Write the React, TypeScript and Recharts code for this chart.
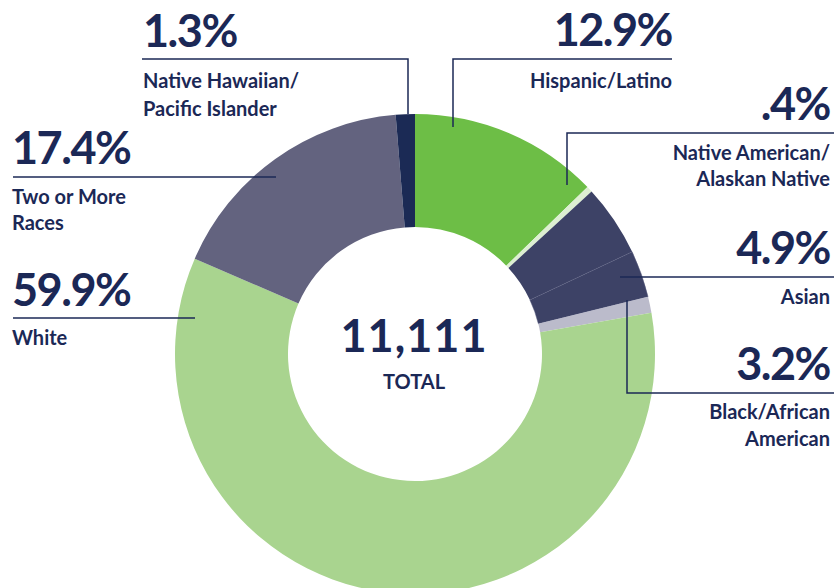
import { Cell, Pie, PieChart } from "recharts";

const groups = [
  "Hispanic/Latino",
  "Native American/Alaskan Native",
  "Asian",
  "Black/African American",
  "Other",
  "White",
  "Two or More Races",
  "Native Hawaiian/Pacific Islander",
];
const shares = [12.9, 0.4, 4.9, 3.2, 1.1, 59.9, 17.4, 1.3];
const colors = [
  "#6DBE46",
  "#DDEFD2",
  "#3D4266",
  "#3D4266",
  "#BBBBCB",
  "#A9D48F",
  "#63637F",
  "#1B2A55",
];
const total = "11,111";

const data = groups.map((name, i) => ({ name, value: shares[i] }));

const navy = "#1B2856";
const font = "Lato, 'Open Sans', sans-serif";

function Pct({ x, y, anchor = "start", children }: any) {
  return (
    <text
      x={x}
      y={y}
      textAnchor={anchor}
      fontSize={45}
      fontWeight={700}
      fill={navy}
      letterSpacing={-1.5}
      fontFamily={font}
    >
      {children}
    </text>
  );
}

function Lbl({ x, y, anchor = "start", children }: any) {
  return (
    <text
      x={x}
      y={y}
      textAnchor={anchor}
      fontSize={20}
      fontWeight={700}
      fill={navy}
      fontFamily={font}
    >
      {children}
    </text>
  );
}

export default function App() {
  return (
    <div
      style={{
        position: "absolute",
        left: 0,
        top: 0,
        width: 834,
        height: 588,
        background: "#fff",
        overflow: "hidden",
      }}
    >
      <PieChart
        width={834}
        height={588}
        margin={{ top: 0, right: 0, bottom: 0, left: 0 }}
        style={{ position: "absolute", left: 0, top: 0 }}
      >
        <Pie
          data={data}
          dataKey="value"
          nameKey="name"
          cx={415}
          cy={354}
          innerRadius={127}
          outerRadius={240}
          startAngle={90}
          endAngle={-270}
          stroke="none"
          isAnimationActive={false}
        >
          {data.map((d, i) => (
            <Cell
              key={d.name}
              fill={colors[i]}
              stroke={i === 3 ? "#5A5F80" : "none"}
              strokeWidth={i === 3 ? 0.5 : 0}
            />
          ))}
        </Pie>
      </PieChart>
      <svg
        width={834}
        height={588}
        style={{ position: "absolute", left: 0, top: 0, pointerEvents: "none" }}
      >
        <g stroke={navy} strokeWidth={1.5} fill="none">
          <polyline points="142,59 408,59 408,114" />
          <line x1={13} y1={177} x2={276} y2={177} />
          <line x1={13} y1={318} x2={195} y2={318} />
          <polyline points="453,127 453,59 672,59" />
          <polyline points="567,185 567,133 834,133" />
          <line x1={620} y1={277} x2={834} y2={277} />
          <polyline points="627,300 627,393 834,393" />
        </g>

        <Pct x={143} y={47}>1.3%</Pct>
        <Lbl x={143} y={88}>Native Hawaiian/</Lbl>
        <Lbl x={143} y={116}>Pacific Islander</Lbl>

        <Pct x={12} y={164}>17.4%</Pct>
        <Lbl x={12} y={204}>Two or More</Lbl>
        <Lbl x={12} y={230}>Races</Lbl>

        <Pct x={12} y={306}>59.9%</Pct>
        <Lbl x={12} y={345}>White</Lbl>

        <Pct x={672} y={46} anchor="end">12.9%</Pct>
        <Lbl x={672} y={88} anchor="end">Hispanic/Latino</Lbl>

        <Pct x={830} y={120} anchor="end">.4%</Pct>
        <Lbl x={830} y={160} anchor="end">Native American/</Lbl>
        <Lbl x={830} y={186} anchor="end">Alaskan Native</Lbl>

        <Pct x={830} y={264} anchor="end">4.9%</Pct>
        <Lbl x={830} y={304} anchor="end">Asian</Lbl>

        <Pct x={830} y={380} anchor="end">3.2%</Pct>
        <Lbl x={830} y={419} anchor="end">Black/African</Lbl>
        <Lbl x={830} y={446} anchor="end">American</Lbl>

        <text
          x={414}
          y={352}
          textAnchor="middle"
          fontSize={45}
          fontWeight={700}
          fill={navy}
          letterSpacing={1}
          fontFamily={font}
        >
          {total}
        </text>
        <text
          x={414}
          y={389}
          textAnchor="middle"
          fontSize={20}
          fontWeight={700}
          fill={navy}
          fontFamily={font}
        >
          TOTAL
        </text>
      </svg>
    </div>
  );
}
